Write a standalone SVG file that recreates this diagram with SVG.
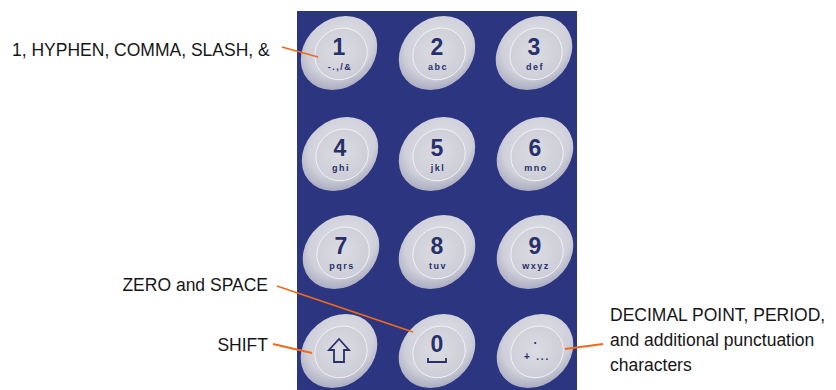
<svg xmlns="http://www.w3.org/2000/svg" width="836" height="390" viewBox="0 0 836 390">
<style>
.lbl{font-family:"Liberation Sans",Arial,sans-serif;font-size:17.5px;fill:#161616}
.dg{font-family:"Liberation Sans",Arial,sans-serif;font-weight:bold;font-size:23px;fill:#28306c;text-anchor:middle}
.sm{font-family:"Liberation Sans",Arial,sans-serif;font-weight:bold;font-size:9px;fill:#28306c;text-anchor:middle;letter-spacing:1.5px}
.outer{fill:url(#gOuter)}
.inner{fill:url(#gInner);stroke:#f2f2f6;stroke-width:0.9}
.lead{stroke:#f26a1b;stroke-width:1.8;fill:none}
.icon{fill:none;stroke:#28306c;stroke-width:1.8;stroke-linejoin:miter}
</style>
<defs>
<radialGradient id="gOuter" cx="0.58" cy="0.42" r="0.62">
<stop offset="0" stop-color="#e2e2e8"/>
<stop offset="0.7" stop-color="#cfd0da"/>
<stop offset="1" stop-color="#a9abbf"/>
</radialGradient>
<radialGradient id="gInner" cx="0.5" cy="0.45" r="0.6">
<stop offset="0" stop-color="#dcdce3"/>
<stop offset="1" stop-color="#cbccd6"/>
</radialGradient>
<g id="keybase">
<ellipse class="outer" rx="41" ry="34" transform="rotate(-40)"/>
<ellipse class="inner" cx="1" cy="2" rx="27" ry="25" transform="rotate(-40)"/>
</g>
</defs>
<rect id="panel" x="297" y="11" width="280" height="379" fill="#2b3580"/>
<g id="key1" transform="translate(339,53)"><use href="#keybase"/><text class="dg" x="0" y="2">1</text><text class="sm" x="1" y="17">-.,/&amp;</text></g>
<g id="key2" transform="translate(437,53)"><use href="#keybase"/><text class="dg" x="0" y="2">2</text><text class="sm" x="1" y="17">abc</text></g>
<g id="key3" transform="translate(534,53)"><use href="#keybase"/><text class="dg" x="0" y="2">3</text><text class="sm" x="1" y="17">def</text></g>
<g id="key4" transform="translate(340,154)"><use href="#keybase"/><text class="dg" x="0" y="2">4</text><text class="sm" x="1" y="17">ghi</text></g>
<g id="key5" transform="translate(437,154)"><use href="#keybase"/><text class="dg" x="0" y="2">5</text><text class="sm" x="1" y="17">jkl</text></g>
<g id="key6" transform="translate(535,154)"><use href="#keybase"/><text class="dg" x="0" y="2">6</text><text class="sm" x="1" y="17">mno</text></g>
<g id="key7" transform="translate(341,252)"><use href="#keybase"/><text class="dg" x="0" y="2">7</text><text class="sm" x="1" y="17">pqrs</text></g>
<g id="key8" transform="translate(437,252)"><use href="#keybase"/><text class="dg" x="0" y="2">8</text><text class="sm" x="1" y="17">tuv</text></g>
<g id="key9" transform="translate(535,252)"><use href="#keybase"/><text class="dg" x="0" y="2">9</text><text class="sm" x="1" y="17">wxyz</text></g>
<g id="keyShift" transform="translate(339,351)"><use href="#keybase"/><path class="icon" d="M0,-12 L10,-1 H5 V11 H-5 V-1 H-10 Z"/></g>
<g id="key0" transform="translate(437,351)"><use href="#keybase"/><text class="dg" x="0" y="1">0</text><path class="icon" d="M-9,7 V11 H9 V7"/></g>
<g id="keyDot" transform="translate(535,351)"><use href="#keybase"/><text class="sm" x="1" y="-7" style="font-size:12px">.</text><text class="sm" x="2" y="9" style="font-size:10px;letter-spacing:1.8px">+ ...</text></g>
<g id="connectors">
<line class="lead" x1="282" y1="47" x2="318" y2="57"/>
<line class="lead" x1="277" y1="286" x2="413" y2="332"/>
<line class="lead" x1="273" y1="344" x2="312" y2="353"/>
<line class="lead" x1="565" y1="349" x2="603" y2="344"/>
</g>
<g id="labels">
<text class="lbl" x="12" y="55.5">1, HYPHEN, COMMA, SLASH, &amp;</text>
<text class="lbl" x="268" y="291" text-anchor="end">ZERO and SPACE</text>
<text class="lbl" x="268" y="351" text-anchor="end">SHIFT</text>
<text class="lbl" x="610" y="321">DECIMAL POINT, PERIOD,</text>
<text class="lbl" x="610" y="346">and additional punctuation</text>
<text class="lbl" x="610" y="371">characters</text>
</g>
</svg>
